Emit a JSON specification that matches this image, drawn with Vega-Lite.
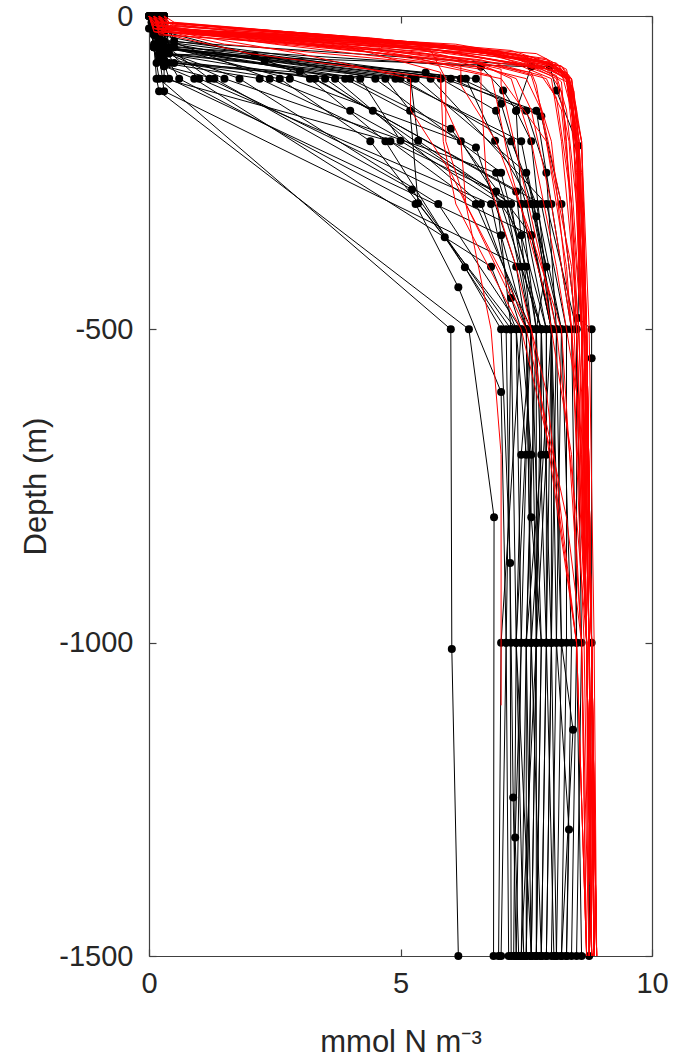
{
  "$schema": "https://vega.github.io/schema/vega-lite/v6.json",
  "autosize": {"type": "none"},
  "padding": {"left": 149, "top": 16, "right": 21, "bottom": 105},
  "width": 503,
  "height": 940,
  "background": "white",
  "config": {
    "view": {"stroke": null},
    "axis": {
      "grid": false,
      "domainColor": "#404040",
      "domainWidth": 1.2,
      "tickColor": "#404040",
      "tickWidth": 1.2,
      "tickSize": -7,
      "labelFlush": false,
      "labelFont": "Liberation Sans",
      "labelFontSize": 29,
      "labelColor": "#262626",
      "titleFont": "Liberation Sans",
      "titleFontSize": 31,
      "titleFontWeight": "normal",
      "titleColor": "#262626"
    }
  },
  "datasets": {
    "obs": [
      {"p":1,"x":0.05,"d":0},{"p":1,"x":0.05,"d":-10},{"p":1,"x":0.1,"d":-25},{"p":1,"x":0.1,"d":-50},{"p":1,"x":0.15,"d":-75},{"p":1,"x":0.2,"d":-100},{"p":1,"x":6.0,"d":-500},{"p":1,"x":6.02,"d":-1010},{"p":1,"x":6.15,"d":-1500},
      {"p":2,"x":0.1,"d":0},{"p":2,"x":0.1,"d":-20},{"p":2,"x":0.1,"d":-50},{"p":2,"x":0.15,"d":-100},{"p":2,"x":0.2,"d":-120},{"p":2,"x":6.36,"d":-500},{"p":2,"x":6.86,"d":-800},{"p":2,"x":6.85,"d":-1500},
      {"p":3,"x":0.2,"d":0},{"p":3,"x":0.2,"d":-30},{"p":3,"x":0.3,"d":-60},{"p":3,"x":0.6,"d":-100},{"p":3,"x":5.3,"d":-300},{"p":3,"x":6.15,"d":-433},{"p":3,"x":7.0,"d":-600},{"p":3,"x":7.1,"d":-1000},{"p":3,"x":7.0,"d":-1500},
      {"p":4,"x":0.1,"d":0},{"p":4,"x":0.2,"d":-40},{"p":4,"x":0.3,"d":-80},{"p":4,"x":1.3,"d":-100},{"p":4,"x":5.23,"d":-277},{"p":4,"x":7.2,"d":-500},{"p":4,"x":7.3,"d":-1000},{"p":4,"x":7.25,"d":-1500},
      {"p":5,"x":0.0,"d":0},{"p":5,"x":0.1,"d":-50},{"p":5,"x":1.8,"d":-100},{"p":5,"x":5.75,"d":-300},{"p":5,"x":7.4,"d":-500},{"p":5,"x":7.6,"d":-700},{"p":5,"x":7.5,"d":-1000},{"p":5,"x":7.4,"d":-1500},
      {"p":6,"x":0.1,"d":0},{"p":6,"x":0.1,"d":-30},{"p":6,"x":0.2,"d":-70},{"p":6,"x":2.6,"d":-100},{"p":6,"x":4.4,"d":-200},{"p":6,"x":5.88,"d":-353},{"p":6,"x":7.1,"d":-500},{"p":6,"x":7.2,"d":-1000},{"p":6,"x":7.24,"d":-1247},{"p":6,"x":7.3,"d":-1500},
      {"p":7,"x":0.3,"d":0},{"p":7,"x":0.3,"d":-25},{"p":7,"x":2.1,"d":-63},{"p":7,"x":3.2,"d":-100},{"p":7,"x":4.7,"d":-200},{"p":7,"x":6.28,"d":-401},{"p":7,"x":7.0,"d":-500},{"p":7,"x":7.18,"d":-873},{"p":7,"x":7.2,"d":-1500},
      {"p":8,"x":0.2,"d":0},{"p":8,"x":0.2,"d":-40},{"p":8,"x":2.3,"d":-72},{"p":8,"x":3.7,"d":-100},{"p":8,"x":4.45,"d":-151},{"p":8,"x":6.6,"d":-300},{"p":8,"x":7.5,"d":-500},{"p":8,"x":7.6,"d":-1000},{"p":8,"x":7.5,"d":-1500},
      {"p":9,"x":0.1,"d":0},{"p":9,"x":0.3,"d":-50},{"p":9,"x":4.2,"d":-100},{"p":9,"x":5.0,"d":-199},{"p":9,"x":7.0,"d":-300},{"p":9,"x":7.8,"d":-500},{"p":9,"x":7.7,"d":-1000},{"p":9,"x":7.6,"d":-1500},
      {"p":10,"x":0.0,"d":0},{"p":10,"x":0.1,"d":-30},{"p":10,"x":0.5,"d":-75},{"p":10,"x":4.7,"d":-100},{"p":10,"x":5.19,"d":-151},{"p":10,"x":5.35,"d":-299},{"p":10,"x":7.3,"d":-500},{"p":10,"x":7.4,"d":-1000},{"p":10,"x":7.28,"d":-1311},{"p":10,"x":7.35,"d":-1500},
      {"p":11,"x":0.2,"d":0},{"p":11,"x":0.4,"d":-60},{"p":11,"x":5.2,"d":-100},{"p":11,"x":5.35,"d":-199},{"p":11,"x":7.2,"d":-300},{"p":11,"x":7.6,"d":-500},{"p":11,"x":7.8,"d":-1000},{"p":11,"x":7.7,"d":-1500},
      {"p":12,"x":0.1,"d":0},{"p":12,"x":0.2,"d":-50},{"p":12,"x":5.8,"d":-100},{"p":12,"x":6.9,"d":-151},{"p":12,"x":7.5,"d":-300},{"p":12,"x":8.0,"d":-500},{"p":12,"x":8.1,"d":-1000},{"p":12,"x":8.0,"d":-1500},
      {"p":13,"x":0.3,"d":0},{"p":13,"x":0.5,"d":-40},{"p":13,"x":6.3,"d":-100},{"p":13,"x":6.88,"d":-199},{"p":13,"x":7.6,"d":-300},{"p":13,"x":8.1,"d":-500},{"p":13,"x":8.2,"d":-1000},{"p":13,"x":8.1,"d":-1500},
      {"p":14,"x":0.1,"d":0},{"p":14,"x":0.3,"d":-80},{"p":14,"x":0.9,"d":-100},{"p":14,"x":6.8,"d":-400},{"p":14,"x":7.3,"d":-500},{"p":14,"x":7.5,"d":-700},{"p":14,"x":7.4,"d":-1000},{"p":14,"x":7.3,"d":-1500},
      {"p":15,"x":0.2,"d":0},{"p":15,"x":0.2,"d":-50},{"p":15,"x":0.4,"d":-100},{"p":15,"x":7.0,"d":-350},{"p":15,"x":7.5,"d":-500},{"p":15,"x":7.6,"d":-1000},{"p":15,"x":7.5,"d":-1500},
      {"p":16,"x":0.1,"d":0},{"p":16,"x":0.1,"d":-25},{"p":16,"x":0.3,"d":-75},{"p":16,"x":2.2,"d":-100},{"p":16,"x":7.4,"d":-300},{"p":16,"x":7.9,"d":-500},{"p":16,"x":7.9,"d":-1000},{"p":16,"x":7.8,"d":-1500},
      {"p":17,"x":0.0,"d":0},{"p":17,"x":0.1,"d":-50},{"p":17,"x":1.5,"d":-100},{"p":17,"x":6.9,"d":-250},{"p":17,"x":7.5,"d":-400},{"p":17,"x":7.7,"d":-500},{"p":17,"x":7.7,"d":-1000},{"p":17,"x":7.6,"d":-1500},
      {"p":18,"x":0.2,"d":0},{"p":18,"x":0.4,"d":-50},{"p":18,"x":3.0,"d":-88},{"p":18,"x":7.8,"d":-300},{"p":18,"x":8.3,"d":-500},{"p":18,"x":8.3,"d":-1000},{"p":18,"x":8.2,"d":-1500},
      {"p":19,"x":0.1,"d":0},{"p":19,"x":0.3,"d":-40},{"p":19,"x":7.97,"d":-81},{"p":19,"x":8.1,"d":-119},{"p":19,"x":8.53,"d":-207},{"p":19,"x":8.57,"d":-300},{"p":19,"x":8.53,"d":-482},{"p":19,"x":8.8,"d":-500},{"p":19,"x":8.8,"d":-546},{"p":19,"x":8.8,"d":-1000},{"p":19,"x":8.75,"d":-1500},
      {"p":20,"x":0.3,"d":0},{"p":20,"x":0.5,"d":-50},{"p":20,"x":6.6,"d":-81},{"p":20,"x":7.04,"d":-119},{"p":20,"x":7.3,"d":-151},{"p":20,"x":7.4,"d":-300},{"p":20,"x":7.7,"d":-500},{"p":20,"x":7.9,"d":-1000},{"p":20,"x":7.8,"d":-1500},
      {"p":21,"x":0.1,"d":0},{"p":21,"x":0.2,"d":-60},{"p":21,"x":7.6,"d":-81},{"p":21,"x":7.3,"d":-151},{"p":21,"x":7.6,"d":-200},{"p":21,"x":8.0,"d":-500},{"p":21,"x":8.0,"d":-1000},{"p":21,"x":7.9,"d":-1500},
      {"p":22,"x":0.2,"d":0},{"p":22,"x":0.3,"d":-50},{"p":22,"x":5.0,"d":-100},{"p":22,"x":7.2,"d":-200},{"p":22,"x":7.7,"d":-300},{"p":22,"x":8.2,"d":-500},{"p":22,"x":8.4,"d":-1000},{"p":22,"x":8.3,"d":-1500},
      {"p":23,"x":0.1,"d":0},{"p":23,"x":0.2,"d":-30},{"p":23,"x":4.5,"d":-100},{"p":23,"x":7.0,"d":-250},{"p":23,"x":7.8,"d":-500},{"p":23,"x":7.8,"d":-700},{"p":23,"x":7.5,"d":-1000},{"p":23,"x":7.5,"d":-1500},
      {"p":24,"x":0.2,"d":0},{"p":24,"x":0.3,"d":-70},{"p":24,"x":3.5,"d":-100},{"p":24,"x":7.1,"d":-300},{"p":24,"x":7.6,"d":-500},{"p":24,"x":7.3,"d":-1000},{"p":24,"x":7.6,"d":-1500},
      {"p":25,"x":0.1,"d":0},{"p":25,"x":0.2,"d":-60},{"p":25,"x":0.3,"d":-120},{"p":25,"x":7.4,"d":-400},{"p":25,"x":7.8,"d":-500},{"p":25,"x":8.0,"d":-1000},{"p":25,"x":7.9,"d":-1500},
      {"p":26,"x":0.3,"d":0},{"p":26,"x":0.4,"d":-50},{"p":26,"x":2.8,"d":-100},{"p":26,"x":6.2,"d":-200},{"p":26,"x":7.4,"d":-350},{"p":26,"x":7.9,"d":-500},{"p":26,"x":7.9,"d":-700},{"p":26,"x":7.7,"d":-1000},{"p":26,"x":7.7,"d":-1500},
      {"p":27,"x":0.1,"d":0},{"p":27,"x":0.2,"d":-40},{"p":27,"x":6.0,"d":-100},{"p":27,"x":7.5,"d":-151},{"p":27,"x":7.9,"d":-250},{"p":27,"x":8.1,"d":-500},{"p":27,"x":8.0,"d":-1000},{"p":27,"x":8.1,"d":-1500},
      {"p":28,"x":0.0,"d":0},{"p":28,"x":0.2,"d":-50},{"p":28,"x":5.5,"d":-90},{"p":28,"x":7.7,"d":-151},{"p":28,"x":8.0,"d":-300},{"p":28,"x":8.4,"d":-500},{"p":28,"x":8.5,"d":-1000},{"p":28,"x":8.4,"d":-1500},
      {"p":29,"x":0.2,"d":0},{"p":29,"x":0.3,"d":-50},{"p":29,"x":1.0,"d":-100},{"p":29,"x":6.8,"d":-300},{"p":29,"x":7.2,"d":-450},{"p":29,"x":7.4,"d":-500},{"p":29,"x":7.0,"d":-1000},{"p":29,"x":6.95,"d":-1500},
      {"p":30,"x":0.1,"d":0},{"p":30,"x":0.2,"d":-40},{"p":30,"x":0.4,"d":-75},{"p":30,"x":3.9,"d":-100},{"p":30,"x":6.5,"d":-210},{"p":30,"x":7.3,"d":-400},{"p":30,"x":7.5,"d":-500},{"p":30,"x":7.6,"d":-800},{"p":30,"x":7.8,"d":-1000},{"p":30,"x":7.7,"d":-1500},
      {"p":31,"x":0.2,"d":0},{"p":31,"x":0.3,"d":-60},{"p":31,"x":4.9,"d":-100},{"p":31,"x":7.4,"d":-200},{"p":31,"x":7.7,"d":-320},{"p":31,"x":8.0,"d":-500},{"p":31,"x":8.2,"d":-1000},{"p":31,"x":8.43,"d":-1139},{"p":31,"x":8.2,"d":-1500},
      {"p":32,"x":0.1,"d":0},{"p":32,"x":0.2,"d":-50},{"p":32,"x":5.6,"d":-100},{"p":32,"x":7.9,"d":-300},{"p":32,"x":8.5,"d":-500},{"p":32,"x":8.5,"d":-1000},{"p":32,"x":8.6,"d":-1500},
      {"p":33,"x":0.3,"d":0},{"p":33,"x":0.3,"d":-50},{"p":33,"x":0.3,"d":-100},{"p":33,"x":4.8,"d":-200},{"p":33,"x":6.5,"d":-300},{"p":33,"x":7.6,"d":-500},{"p":33,"x":7.7,"d":-1000},{"p":33,"x":7.4,"d":-1500},
      {"p":34,"x":0.1,"d":0},{"p":34,"x":0.1,"d":-30},{"p":34,"x":2.4,"d":-100},{"p":34,"x":4.0,"d":-151},{"p":34,"x":6.9,"d":-280},{"p":34,"x":7.2,"d":-500},{"p":34,"x":7.1,"d":-1000},{"p":34,"x":7.15,"d":-1500},
      {"p":35,"x":0.2,"d":0},{"p":35,"x":0.2,"d":-50},{"p":35,"x":4.0,"d":-100},{"p":35,"x":6.0,"d":-180},{"p":35,"x":7.6,"d":-350},{"p":35,"x":8.0,"d":-500},{"p":35,"x":7.6,"d":-1000},{"p":35,"x":7.8,"d":-1500},
      {"p":36,"x":0.0,"d":0},{"p":36,"x":0.0,"d":-20},{"p":36,"x":0.1,"d":-45},{"p":36,"x":6.5,"d":-100},{"p":36,"x":7.0,"d":-140},{"p":36,"x":7.6,"d":-300},{"p":36,"x":8.2,"d":-500},{"p":36,"x":8.1,"d":-1000},{"p":36,"x":8.35,"d":-1298},{"p":36,"x":8.3,"d":-1500},
      {"p":37,"x":0.1,"d":0},{"p":37,"x":0.2,"d":-50},{"p":37,"x":5.3,"d":-100},{"p":37,"x":7.5,"d":-250},{"p":37,"x":7.9,"d":-400},{"p":37,"x":7.7,"d":-500},{"p":37,"x":7.5,"d":-1000},{"p":37,"x":7.6,"d":-1500},
      {"p":38,"x":0.2,"d":0},{"p":38,"x":0.3,"d":-60},{"p":38,"x":3.3,"d":-100},{"p":38,"x":7.3,"d":-280},{"p":38,"x":7.6,"d":-500},{"p":38,"x":7.4,"d":-700},{"p":38,"x":7.3,"d":-1000},{"p":38,"x":7.45,"d":-1500},
      {"p":39,"x":0.1,"d":0},{"p":39,"x":0.2,"d":-40},{"p":39,"x":1.2,"d":-100},{"p":39,"x":7.6,"d":-350},{"p":39,"x":8.0,"d":-500},{"p":39,"x":7.9,"d":-1000},{"p":39,"x":8.05,"d":-1500},
      {"p":40,"x":0.3,"d":0},{"p":40,"x":0.3,"d":-50},{"p":40,"x":6.2,"d":-100},{"p":40,"x":7.8,"d":-160},{"p":40,"x":8.2,"d":-300},{"p":40,"x":8.5,"d":-500},{"p":40,"x":8.6,"d":-1000},{"p":40,"x":8.5,"d":-1500}
    ],
    "mod": [
      {"p":1,"x":0.1,"d":0},{"p":1,"x":0.2,"d":-10},{"p":1,"x":3.2,"d":-30},{"p":1,"x":6.5,"d":-55},{"p":1,"x":8.0,"d":-80},{"p":1,"x":8.4,"d":-100},{"p":1,"x":8.55,"d":-200},{"p":1,"x":8.7,"d":-500},{"p":1,"x":8.8,"d":-1000},{"p":1,"x":8.85,"d":-1500},
      {"p":2,"x":0.0,"d":0},{"p":2,"x":0.1,"d":-10},{"p":2,"x":1.0,"d":-30},{"p":2,"x":5.0,"d":-50},{"p":2,"x":7.8,"d":-80},{"p":2,"x":8.3,"d":-100},{"p":2,"x":8.5,"d":-200},{"p":2,"x":8.6,"d":-500},{"p":2,"x":8.7,"d":-1000},{"p":2,"x":8.8,"d":-1500},
      {"p":3,"x":0.2,"d":0},{"p":3,"x":0.3,"d":-20},{"p":3,"x":4.0,"d":-40},{"p":3,"x":7.5,"d":-70},{"p":3,"x":8.35,"d":-100},{"p":3,"x":8.5,"d":-200},{"p":3,"x":8.65,"d":-500},{"p":3,"x":8.75,"d":-1000},{"p":3,"x":8.8,"d":-1500},
      {"p":4,"x":0.1,"d":0},{"p":4,"x":0.2,"d":-20},{"p":4,"x":3.5,"d":-50},{"p":4,"x":7.0,"d":-80},{"p":4,"x":7.9,"d":-100},{"p":4,"x":8.2,"d":-150},{"p":4,"x":8.4,"d":-300},{"p":4,"x":8.6,"d":-500},{"p":4,"x":8.7,"d":-1000},{"p":4,"x":8.75,"d":-1500},
      {"p":5,"x":0.0,"d":0},{"p":5,"x":0.1,"d":-15},{"p":5,"x":2.0,"d":-40},{"p":5,"x":6.0,"d":-70},{"p":5,"x":7.5,"d":-100},{"p":5,"x":7.8,"d":-150},{"p":5,"x":8.2,"d":-300},{"p":5,"x":8.5,"d":-500},{"p":5,"x":8.7,"d":-1000},{"p":5,"x":8.8,"d":-1500},
      {"p":6,"x":0.2,"d":0},{"p":6,"x":0.4,"d":-20},{"p":6,"x":5.5,"d":-45},{"p":6,"x":7.9,"d":-75},{"p":6,"x":8.4,"d":-100},{"p":6,"x":8.55,"d":-200},{"p":6,"x":8.7,"d":-500},{"p":6,"x":8.8,"d":-1000},{"p":6,"x":8.9,"d":-1500},
      {"p":7,"x":0.1,"d":0},{"p":7,"x":0.2,"d":-25},{"p":7,"x":4.5,"d":-55},{"p":7,"x":6.8,"d":-85},{"p":7,"x":7.2,"d":-100},{"p":7,"x":7.6,"d":-200},{"p":7,"x":8.1,"d":-400},{"p":7,"x":8.5,"d":-600},{"p":7,"x":8.7,"d":-1000},{"p":7,"x":8.8,"d":-1500},
      {"p":8,"x":0.0,"d":0},{"p":8,"x":0.1,"d":-20},{"p":8,"x":3.0,"d":-60},{"p":8,"x":5.2,"d":-100},{"p":8,"x":5.2,"d":-150},{"p":8,"x":6.0,"d":-250},{"p":8,"x":7.5,"d":-500},{"p":8,"x":8.3,"d":-800},{"p":8,"x":8.6,"d":-1000},{"p":8,"x":8.7,"d":-1500},
      {"p":9,"x":0.1,"d":0},{"p":9,"x":0.2,"d":-20},{"p":9,"x":4.0,"d":-50},{"p":9,"x":5.8,"d":-90},{"p":9,"x":5.8,"d":-130},{"p":9,"x":6.2,"d":-200},{"p":9,"x":6.3,"d":-300},{"p":9,"x":6.8,"d":-500},{"p":9,"x":7.0,"d":-700},{"p":9,"x":7.0,"d":-1100},
      {"p":10,"x":0.2,"d":0},{"p":10,"x":0.3,"d":-10},{"p":10,"x":4.5,"d":-38},{"p":10,"x":7.2,"d":-65},{"p":10,"x":8.1,"d":-95},{"p":10,"x":8.3,"d":-150},{"p":10,"x":8.5,"d":-300},{"p":10,"x":8.6,"d":-500},{"p":10,"x":8.75,"d":-1000},{"p":10,"x":8.85,"d":-1500},
      {"p":11,"x":0.1,"d":0},{"p":11,"x":0.2,"d":-20},{"p":11,"x":2.5,"d":-45},{"p":11,"x":6.2,"d":-80},{"p":11,"x":6.2,"d":-110},{"p":11,"x":6.9,"d":-200},{"p":11,"x":7.6,"d":-350},{"p":11,"x":8.2,"d":-500},{"p":11,"x":8.6,"d":-1000},{"p":11,"x":8.7,"d":-1500},
      {"p":12,"x":0.0,"d":0},{"p":12,"x":0.1,"d":-20},{"p":12,"x":6.0,"d":-50},{"p":12,"x":8.0,"d":-80},{"p":12,"x":8.35,"d":-100},{"p":12,"x":8.6,"d":-250},{"p":12,"x":8.7,"d":-500},{"p":12,"x":8.8,"d":-1000},{"p":12,"x":8.85,"d":-1500},
      {"p":13,"x":0.1,"d":0},{"p":13,"x":0.3,"d":-30},{"p":13,"x":5.5,"d":-60},{"p":13,"x":7.6,"d":-90},{"p":13,"x":7.7,"d":-110},{"p":13,"x":7.9,"d":-200},{"p":13,"x":8.3,"d":-400},{"p":13,"x":8.6,"d":-700},{"p":13,"x":8.7,"d":-1000},{"p":13,"x":8.8,"d":-1500},
      {"p":14,"x":0.3,"d":0},{"p":14,"x":0.4,"d":-10},{"p":14,"x":5.8,"d":-45},{"p":14,"x":7.9,"d":-68},{"p":14,"x":8.35,"d":-100},{"p":14,"x":8.6,"d":-200},{"p":14,"x":8.7,"d":-500},{"p":14,"x":8.8,"d":-1000},{"p":14,"x":8.9,"d":-1500},
      {"p":15,"x":0.0,"d":0},{"p":15,"x":0.1,"d":-25},{"p":15,"x":2.0,"d":-60},{"p":15,"x":5.8,"d":-100},{"p":15,"x":5.85,"d":-200},{"p":15,"x":6.1,"d":-300},{"p":15,"x":7.4,"d":-500},{"p":15,"x":8.0,"d":-700},{"p":15,"x":8.5,"d":-1000},{"p":15,"x":8.7,"d":-1500},
      {"p":16,"x":0.1,"d":0},{"p":16,"x":0.2,"d":-20},{"p":16,"x":3.8,"d":-50},{"p":16,"x":6.6,"d":-85},{"p":16,"x":6.6,"d":-120},{"p":16,"x":6.7,"d":-250},{"p":16,"x":7.3,"d":-400},{"p":16,"x":7.9,"d":-600},{"p":16,"x":8.5,"d":-1000},{"p":16,"x":8.7,"d":-1500},
      {"p":17,"x":0.2,"d":0},{"p":17,"x":0.3,"d":-20},{"p":17,"x":5.0,"d":-40},{"p":17,"x":8.0,"d":-75},{"p":17,"x":8.3,"d":-95},{"p":17,"x":8.5,"d":-200},{"p":17,"x":8.6,"d":-500},{"p":17,"x":8.75,"d":-1000},{"p":17,"x":8.8,"d":-1500},
      {"p":18,"x":0.1,"d":0},{"p":18,"x":0.2,"d":-15},{"p":18,"x":3.8,"d":-35},{"p":18,"x":6.9,"d":-65},{"p":18,"x":8.2,"d":-90},{"p":18,"x":8.4,"d":-150},{"p":18,"x":8.6,"d":-400},{"p":18,"x":8.7,"d":-1000},{"p":18,"x":8.8,"d":-1500},
      {"p":19,"x":0.0,"d":0},{"p":19,"x":0.1,"d":-25},{"p":19,"x":5.8,"d":-55},{"p":19,"x":7.9,"d":-85},{"p":19,"x":8.2,"d":-105},{"p":19,"x":8.3,"d":-200},{"p":19,"x":8.5,"d":-500},{"p":19,"x":8.7,"d":-1000},{"p":19,"x":8.75,"d":-1500},
      {"p":20,"x":0.2,"d":0},{"p":20,"x":0.2,"d":-20},{"p":20,"x":4.6,"d":-50},{"p":20,"x":7.4,"d":-80},{"p":20,"x":8.0,"d":-100},{"p":20,"x":8.2,"d":-200},{"p":20,"x":8.55,"d":-500},{"p":20,"x":8.7,"d":-1000},{"p":20,"x":8.8,"d":-1500},
      {"p":21,"x":0.1,"d":0},{"p":21,"x":0.2,"d":-30},{"p":21,"x":6.2,"d":-60},{"p":21,"x":8.3,"d":-90},{"p":21,"x":8.35,"d":-110},{"p":21,"x":8.6,"d":-300},{"p":21,"x":8.8,"d":-1000},{"p":21,"x":8.9,"d":-1500},
      {"p":22,"x":0.0,"d":0},{"p":22,"x":0.1,"d":-20},{"p":22,"x":1.5,"d":-45},{"p":22,"x":5.5,"d":-75},{"p":22,"x":7.0,"d":-100},{"p":22,"x":7.9,"d":-200},{"p":22,"x":8.4,"d":-400},{"p":22,"x":8.7,"d":-1000},{"p":22,"x":8.8,"d":-1500},
      {"p":23,"x":0.3,"d":0},{"p":23,"x":0.4,"d":-20},{"p":23,"x":6.5,"d":-55},{"p":23,"x":8.2,"d":-80},{"p":23,"x":8.35,"d":-100},{"p":23,"x":8.6,"d":-200},{"p":23,"x":8.7,"d":-500},{"p":23,"x":8.8,"d":-1000},{"p":23,"x":8.85,"d":-1500},
      {"p":24,"x":0.1,"d":0},{"p":24,"x":0.1,"d":-15},{"p":24,"x":2.8,"d":-40},{"p":24,"x":6.4,"d":-70},{"p":24,"x":7.6,"d":-95},{"p":24,"x":8.0,"d":-200},{"p":24,"x":8.4,"d":-500},{"p":24,"x":8.65,"d":-1000},{"p":24,"x":8.75,"d":-1500},
      {"p":25,"x":0.2,"d":0},{"p":25,"x":0.3,"d":-25},{"p":25,"x":6.6,"d":-55},{"p":25,"x":8.1,"d":-85},{"p":25,"x":8.3,"d":-100},{"p":25,"x":8.5,"d":-250},{"p":25,"x":8.6,"d":-500},{"p":25,"x":8.8,"d":-1000},{"p":25,"x":8.85,"d":-1500},
      {"p":26,"x":0.0,"d":0},{"p":26,"x":0.1,"d":-20},{"p":26,"x":5.2,"d":-50},{"p":26,"x":7.0,"d":-85},{"p":26,"x":7.0,"d":-110},{"p":26,"x":7.4,"d":-250},{"p":26,"x":8.1,"d":-500},{"p":26,"x":8.5,"d":-800},{"p":26,"x":8.7,"d":-1000},{"p":26,"x":8.8,"d":-1500},
      {"p":27,"x":0.1,"d":0},{"p":27,"x":0.2,"d":-20},{"p":27,"x":5.8,"d":-48},{"p":27,"x":8.1,"d":-75},{"p":27,"x":8.35,"d":-100},{"p":27,"x":8.5,"d":-200},{"p":27,"x":8.65,"d":-500},{"p":27,"x":8.75,"d":-1000},{"p":27,"x":8.85,"d":-1500},
      {"p":28,"x":0.2,"d":0},{"p":28,"x":0.3,"d":-10},{"p":28,"x":3.0,"d":-30},{"p":28,"x":7.7,"d":-60},{"p":28,"x":8.3,"d":-85},{"p":28,"x":8.4,"d":-120},{"p":28,"x":8.6,"d":-500},{"p":28,"x":8.7,"d":-1000},{"p":28,"x":8.8,"d":-1500},
      {"p":29,"x":0.1,"d":0},{"p":29,"x":0.2,"d":-25},{"p":29,"x":6.8,"d":-60},{"p":29,"x":8.0,"d":-95},{"p":29,"x":8.2,"d":-120},{"p":29,"x":8.4,"d":-300},{"p":29,"x":8.6,"d":-700},{"p":29,"x":8.7,"d":-1000},{"p":29,"x":8.8,"d":-1500},
      {"p":30,"x":0.0,"d":0},{"p":30,"x":0.2,"d":-20},{"p":30,"x":5.6,"d":-55},{"p":30,"x":5.9,"d":-100},{"p":30,"x":5.9,"d":-200},{"p":30,"x":6.3,"d":-300},{"p":30,"x":7.6,"d":-500},{"p":30,"x":8.5,"d":-1000},{"p":30,"x":8.7,"d":-1500},
      {"p":31,"x":0.1,"d":0},{"p":31,"x":0.3,"d":-10},{"p":31,"x":2.5,"d":-25},{"p":31,"x":6.0,"d":-50},{"p":31,"x":7.9,"d":-75},{"p":31,"x":8.3,"d":-100},{"p":31,"x":8.55,"d":-200},{"p":31,"x":8.7,"d":-500},{"p":31,"x":8.8,"d":-1000},{"p":31,"x":8.85,"d":-1500},
      {"p":32,"x":0.2,"d":0},{"p":32,"x":0.5,"d":-15},{"p":32,"x":4.2,"d":-35},{"p":32,"x":7.0,"d":-60},{"p":32,"x":8.1,"d":-90},{"p":32,"x":8.4,"d":-110},{"p":32,"x":8.6,"d":-300},{"p":32,"x":8.75,"d":-1000},{"p":32,"x":8.8,"d":-1500},
      {"p":33,"x":0.0,"d":0},{"p":33,"x":0.2,"d":-10},{"p":33,"x":2.2,"d":-30},{"p":33,"x":5.8,"d":-55},{"p":33,"x":7.8,"d":-85},{"p":33,"x":8.3,"d":-105},{"p":33,"x":8.5,"d":-200},{"p":33,"x":8.65,"d":-500},{"p":33,"x":8.8,"d":-1000},{"p":33,"x":8.9,"d":-1500},
      {"p":34,"x":0.1,"d":0},{"p":34,"x":0.3,"d":-20},{"p":34,"x":4.8,"d":-40},{"p":34,"x":7.6,"d":-65},{"p":34,"x":8.25,"d":-90},{"p":34,"x":8.45,"d":-120},{"p":34,"x":8.65,"d":-400},{"p":34,"x":8.8,"d":-1000},{"p":34,"x":8.85,"d":-1500},
      {"p":35,"x":0.3,"d":0},{"p":35,"x":0.5,"d":-10},{"p":35,"x":3.5,"d":-30},{"p":35,"x":6.3,"d":-50},{"p":35,"x":8.1,"d":-80},{"p":35,"x":8.35,"d":-100},{"p":35,"x":8.55,"d":-250},{"p":35,"x":8.7,"d":-500},{"p":35,"x":8.8,"d":-1000},{"p":35,"x":8.9,"d":-1500},
      {"p":36,"x":0.0,"d":0},{"p":36,"x":0.1,"d":-15},{"p":36,"x":3.0,"d":-40},{"p":36,"x":6.6,"d":-70},{"p":36,"x":7.8,"d":-95},{"p":36,"x":8.1,"d":-130},{"p":36,"x":8.4,"d":-300},{"p":36,"x":8.6,"d":-600},{"p":36,"x":8.7,"d":-1000},{"p":36,"x":8.8,"d":-1500},
      {"p":37,"x":0.2,"d":0},{"p":37,"x":0.3,"d":-20},{"p":37,"x":5.2,"d":-45},{"p":37,"x":7.7,"d":-70},{"p":37,"x":8.3,"d":-100},{"p":37,"x":8.5,"d":-200},{"p":37,"x":8.6,"d":-500},{"p":37,"x":8.75,"d":-1000},{"p":37,"x":8.8,"d":-1500},
      {"p":38,"x":0.1,"d":0},{"p":38,"x":0.2,"d":-10},{"p":38,"x":4.4,"d":-35},{"p":38,"x":7.3,"d":-60},{"p":38,"x":8.2,"d":-85},{"p":38,"x":8.35,"d":-110},{"p":38,"x":8.6,"d":-300},{"p":38,"x":8.8,"d":-1000},{"p":38,"x":8.9,"d":-1500},
      {"p":39,"x":0.0,"d":0},{"p":39,"x":0.2,"d":-20},{"p":39,"x":5.4,"d":-50},{"p":39,"x":7.6,"d":-80},{"p":39,"x":8.1,"d":-100},{"p":39,"x":8.35,"d":-200},{"p":39,"x":8.6,"d":-500},{"p":39,"x":8.75,"d":-1000},{"p":39,"x":8.8,"d":-1500},
      {"p":40,"x":0.2,"d":0},{"p":40,"x":0.4,"d":-15},{"p":40,"x":2.8,"d":-30},{"p":40,"x":6.9,"d":-55},{"p":40,"x":8.2,"d":-80},{"p":40,"x":8.4,"d":-100},{"p":40,"x":8.6,"d":-200},{"p":40,"x":8.75,"d":-500},{"p":40,"x":8.85,"d":-1000},{"p":40,"x":8.9,"d":-1500},
      {"p":41,"x":0.1,"d":0},{"p":41,"x":0.2,"d":-20},{"p":41,"x":3.3,"d":-40},{"p":41,"x":6.5,"d":-75},{"p":41,"x":7.3,"d":-100},{"p":41,"x":7.6,"d":-150},{"p":41,"x":8.0,"d":-300},{"p":41,"x":8.4,"d":-500},{"p":41,"x":8.7,"d":-1000},{"p":41,"x":8.8,"d":-1500},
      {"p":42,"x":0.0,"d":0},{"p":42,"x":0.1,"d":-10},{"p":42,"x":3.6,"d":-30},{"p":42,"x":7.2,"d":-55},{"p":42,"x":8.15,"d":-80},{"p":42,"x":8.3,"d":-100},{"p":42,"x":8.5,"d":-200},{"p":42,"x":8.65,"d":-500},{"p":42,"x":8.8,"d":-1000},{"p":42,"x":8.85,"d":-1500},
      {"p":43,"x":0.3,"d":0},{"p":43,"x":0.5,"d":-20},{"p":43,"x":6.1,"d":-45},{"p":43,"x":7.9,"d":-70},{"p":43,"x":8.35,"d":-95},{"p":43,"x":8.5,"d":-150},{"p":43,"x":8.7,"d":-500},{"p":43,"x":8.8,"d":-1000},{"p":43,"x":8.9,"d":-1500},
      {"p":44,"x":0.1,"d":0},{"p":44,"x":0.2,"d":-15},{"p":44,"x":2.0,"d":-35},{"p":44,"x":5.2,"d":-65},{"p":44,"x":6.8,"d":-95},{"p":44,"x":6.9,"d":-130},{"p":44,"x":7.2,"d":-250},{"p":44,"x":7.9,"d":-450},{"p":44,"x":8.4,"d":-700},{"p":44,"x":8.6,"d":-1000},{"p":44,"x":8.75,"d":-1500},
      {"p":45,"x":0.2,"d":0},{"p":45,"x":0.4,"d":-25},{"p":45,"x":6.4,"d":-50},{"p":45,"x":8.0,"d":-75},{"p":45,"x":8.3,"d":-100},{"p":45,"x":8.5,"d":-200},{"p":45,"x":8.6,"d":-500},{"p":45,"x":8.75,"d":-1000},{"p":45,"x":8.85,"d":-1500}
    ]
  },
  "layer": [
    {
      "data": {"name": "obs"},
      "mark": {"type": "line", "color": "#000000", "strokeWidth": 1},
      "encoding": {
        "x": {"field": "x", "type": "quantitative", "scale": {"domain": [0, 10], "nice": false, "zero": false},
              "axis": {"orient": "bottom", "values": [0, 5, 10], "labelExpr": "datum.value + ''", "title": "mmol N m⁻³", "labelPadding": 20, "titlePadding": 29}},
        "y": {"field": "d", "type": "quantitative", "scale": {"domain": [-1500, 0], "nice": false, "zero": false},
              "axis": {"orient": "left", "values": [-1500, -1000, -500, 0], "labelExpr": "datum.value + ''", "title": "Depth (m)", "labelPadding": 23, "titlePadding": 6}},
        "detail": {"field": "p", "type": "nominal"},
        "order": {"field": "d", "type": "quantitative", "sort": "descending"}
      }
    },
    {
      "data": {"name": "obs"},
      "mark": {"type": "circle", "color": "#000000", "opacity": 1, "size": 64},
      "encoding": {
        "x": {"field": "x", "type": "quantitative", "axis": {"orient": "top", "values": [0, 5, 10], "labels": false, "title": null}},
        "y": {"field": "d", "type": "quantitative", "axis": {"orient": "right", "values": [-1500, -1000, -500, 0], "labels": false, "title": null}}
      }
    },
    {
      "data": {"name": "mod"},
      "mark": {"type": "line", "color": "#ff0000", "strokeWidth": 1},
      "encoding": {
        "x": {"field": "x", "type": "quantitative", "axis": null},
        "y": {"field": "d", "type": "quantitative", "axis": null},
        "detail": {"field": "p", "type": "nominal"},
        "order": {"field": "d", "type": "quantitative", "sort": "descending"}
      }
    }
  ],
  "resolve": {"axis": {"x": "independent", "y": "independent"}}
}
